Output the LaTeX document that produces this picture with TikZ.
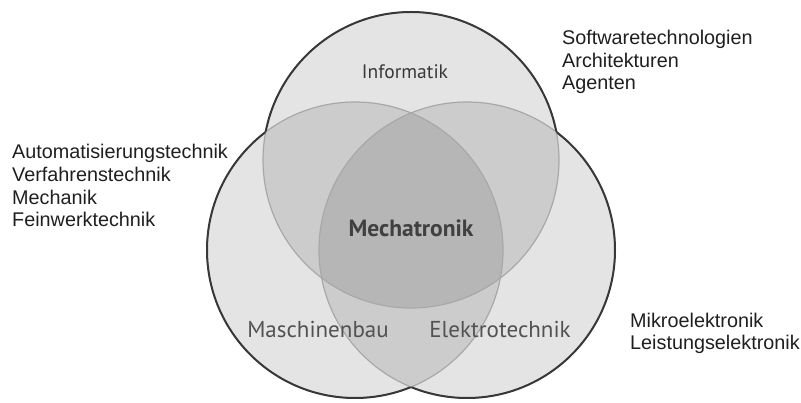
\documentclass[tikz,border=0pt]{standalone}
\usepackage{fontspec}
\setmainfont{Liberation Sans}
\newfontfamily\labelfont{PT Sans}
\definecolor{outline}{gray}{0.22}
\definecolor{arcline}{gray}{0.66}
\definecolor{listtext}{gray}{0.12}
\definecolor{fieldtext}{gray}{0.32}
\definecolor{toptext}{gray}{0.22}
\definecolor{coretext}{gray}{0.25}
\begin{document}
\begin{tikzpicture}[x=1pt,y=-1pt,
  disc/.style={fill=black,fill opacity=0.105},
  innerarc/.style={draw=arcline,line width=1.2pt},
  outerarc/.style={draw=outline,line width=2pt},
  itemlist/.style={inner sep=0pt,align=left,text=listtext,
    font=\fontsize{19.8}{22.8}\selectfont},
  field/.style={inner sep=0pt,text=fieldtext,font=\labelfont\fontsize{23}{26}\selectfont},
  core/.style={inner sep=0pt,text=coretext,font=\labelfont\bfseries\fontsize{23.5}{26}\selectfont}]
\useasboundingbox (0,0) rectangle (801,403);
\def\rad{148pt}
% circle centres
\coordinate (cT) at (411,160);
\coordinate (cL) at (355,250);
\coordinate (cR) at (467,250);
% translucent discs
\foreach \c in {cT,cL,cR} \fill[disc] (\c) circle[radius=\rad];
% thin lines where the discs overlap
\foreach \c in {cT,cL,cR} \path[innerarc] (\c) circle[radius=\rad];
% dark outer contour: every circle drawn only outside the two others
\newcommand\outsideof[3]{%
  \begin{scope}[even odd rule]
    \clip (-10,-10) rectangle (811,413) (#2) circle[radius=\rad];
    \begin{scope}[even odd rule]
      \clip (-10,-10) rectangle (811,413) (#3) circle[radius=\rad];
      \path[outerarc] (#1) circle[radius=\rad];
    \end{scope}
  \end{scope}}
\outsideof{cT}{cL}{cR}
\outsideof{cL}{cT}{cR}
\outsideof{cR}{cT}{cL}
% labels inside the circles
\node[field,font=\labelfont\fontsize{19.5}{22}\selectfont,text=toptext,anchor=base] (inf) at (405,79) {Informatik};
\node[core,anchor=base] (mech) at (411,237) {Mechatronik};
\node[field,anchor=base] (mb) at (318,338) {Maschinenbau};
\node[field,anchor=base] (et) at (500,338) {Elektrotechnik};
% application fields (anchored at the baseline of their last line)
\node[itemlist,anchor=base west] (left) at (12,227)
  {Automatisierungstechnik\\Verfahrenstechnik\\Mechanik\\Feinwerktechnik};
\node[itemlist,anchor=base west] (top) at (562,90)
  {Softwaretechnologien\\Architekturen\\Agenten};
\node[itemlist,anchor=base west] (bottom) at (630,350)
  {Mikroelektronik\\Leistungselektronik};
\end{tikzpicture}
\end{document}
